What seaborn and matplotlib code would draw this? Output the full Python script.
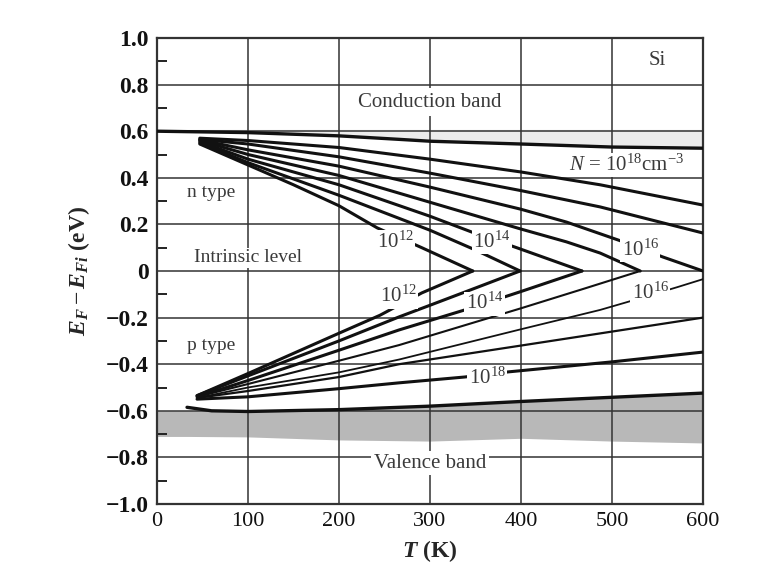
import matplotlib
matplotlib.use('Agg')
import matplotlib.pyplot as plt
import pandas as pd
import seaborn as sns

# ---- data (T in K, E_F - E_Fi in eV) ----
T_ec = [0, 100, 200, 266, 300, 400, 500, 600]
E_ec = [0.600, 0.594, 0.580, 0.565, 0.557, 0.545, 0.532, 0.527]

T_ev = [33, 60, 100, 200, 300, 400, 500, 600]
E_ev = [-0.585, -0.600, -0.603, -0.595, -0.580, -0.560, -0.542, -0.524]

# band shading
T_vb = [0, 33, 100, 200, 300, 400, 500, 600]
vb_top = [-0.600, -0.600, -0.603, -0.595, -0.580, -0.560, -0.542, -0.524]
vb_bot = [-0.710, -0.710, -0.712, -0.725, -0.730, -0.718, -0.730, -0.738]
cb_top = [0.608, 0.608, 0.608, 0.608, 0.608, 0.608, 0.608, 0.608]

# n type curves
n12_T = [47, 100, 150, 200, 242, 291, 347]
n12_E = [0.545, 0.455, 0.370, 0.280, 0.185, 0.100, 0.0]
n13_T = [47, 100, 200, 300, 350, 399]
n13_E = [0.550, 0.465, 0.325, 0.175, 0.090, 0.0]
n14_T = [47, 100, 200, 300, 346, 396, 467]
n14_E = [0.555, 0.480, 0.370, 0.235, 0.167, 0.099, 0.0]
n15_T = [47, 100, 200, 300, 400, 450, 487, 531]
n15_E = [0.560, 0.500, 0.410, 0.295, 0.180, 0.125, 0.077, 0.0]
n16_T = [47, 100, 200, 300, 400, 450, 509, 556, 600]
n16_E = [0.563, 0.520, 0.450, 0.360, 0.265, 0.210, 0.130, 0.060, 0.0]
n17_T = [47, 100, 200, 300, 400, 487, 600]
n17_E = [0.565, 0.545, 0.490, 0.420, 0.345, 0.275, 0.163]
n18_T = [47, 100, 200, 300, 400, 487, 600]
n18_E = [0.570, 0.560, 0.530, 0.480, 0.425, 0.370, 0.283]

# p type curves
p12_T = [44, 100, 200, 245, 291, 347]
p12_E = [-0.535, -0.440, -0.267, -0.190, -0.094, 0.0]
p13_T = [44, 100, 200, 266, 300, 350, 399]
p13_E = [-0.535, -0.450, -0.300, -0.197, -0.147, -0.073, 0.0]
p14_T = [44, 100, 200, 266, 340, 400, 467]
p14_E = [-0.540, -0.470, -0.340, -0.253, -0.165, -0.088, 0.0]
p15_T = [44, 100, 200, 266, 400, 470, 531]
p15_E = [-0.540, -0.485, -0.385, -0.318, -0.160, -0.075, 0.0]
p16_T = [44, 100, 200, 266, 400, 487, 517, 572, 600]
p16_E = [-0.545, -0.500, -0.435, -0.380, -0.250, -0.167, -0.133, -0.069, -0.035]
p17_T = [44, 100, 200, 266, 400, 500, 600]
p17_E = [-0.545, -0.515, -0.455, -0.400, -0.320, -0.260, -0.200]
p18_T = [44, 100, 200, 266, 338, 386, 500, 600]
p18_E = [-0.550, -0.540, -0.505, -0.480, -0.455, -0.433, -0.390, -0.348]

x_ticks = [0, 100, 200, 300, 400, 500, 600]
y_ticks = [1.0, 0.8, 0.6, 0.4, 0.2, 0.0, -0.2, -0.4, -0.6, -0.8, -1.0]
y_tick_labels = ['1.0', '0.8', '0.6', '0.4', '0.2', '0', '\u22120.2', '\u22120.4',
                 '\u22120.6', '\u22120.8', '\u22121.0']

# ---- style ----
sns.set_theme(style='white')
plt.rcParams['font.family'] = ['Liberation Serif', 'DejaVu Serif']
plt.rcParams['mathtext.fontset'] = 'custom'
plt.rcParams['mathtext.rm'] = 'Liberation Serif'
plt.rcParams['mathtext.it'] = 'Liberation Serif:italic'
plt.rcParams['mathtext.bf'] = 'Liberation Serif:bold'
plt.rcParams['mathtext.bfit'] = 'Liberation Serif:italic:bold'

fig = plt.figure(figsize=(7.65, 5.69), dpi=100)
ax = fig.add_axes([157/765, 1 - 504/569, (703 - 157)/765, (504 - 38)/569])

# band shading
ax.fill_between(T_vb, vb_bot, vb_top, color='#b8b8b8', lw=0, zorder=0.3)
ax.fill_between(T_ec, E_ec, cb_top, color='#ececec', lw=0, zorder=0.3)

curves = [
    (T_ec, E_ec, 2.4), (T_ev, E_ev, 2.4),
    (n12_T, n12_E, 2.2), (n13_T, n13_E, 2.2), (n14_T, n14_E, 2.2),
    (n15_T, n15_E, 2.2), (n16_T, n16_E, 2.2), (n17_T, n17_E, 2.2),
    (n18_T, n18_E, 2.2),
    (p12_T, p12_E, 2.2), (p13_T, p13_E, 2.2), (p14_T, p14_E, 2.2),
    (p15_T, p15_E, 1.5), (p16_T, p16_E, 1.3), (p17_T, p17_E, 1.6),
    (p18_T, p18_E, 2.2),
]
for tt, ee, w in curves:
    d = pd.DataFrame({'T': tt, 'E': ee})
    sns.lineplot(data=d, x='T', y='E', ax=ax, color='#111111', lw=w,
                 errorbar=None, zorder=3)

ax.set_xlim(0, 600)
ax.set_ylim(-1.0, 1.0)
ax.set_xticks(x_ticks)
ax.set_xticklabels([str(v) for v in x_ticks], fontsize=16)
ax.set_yticks(y_ticks)
ax.set_yticklabels(y_tick_labels, fontsize=17, fontweight='bold')
ax.set_yticks([0.9, 0.7, 0.5, 0.3, 0.1, -0.1, -0.3, -0.5, -0.7, -0.9], minor=True)
ax.tick_params(axis='y', which='major', length=0, pad=6, colors='#111111')
ax.tick_params(axis='y', which='minor', direction='in', length=7, width=1.4,
               left=True, color='#222222')
ax.tick_params(axis='x', which='major', length=0, pad=6, colors='#111111')

ax.grid(True, which='major', color='#333333', lw=1.1)
ax.set_axisbelow(True)
for s in ax.spines.values():
    s.set_color('#333333')
    s.set_linewidth(1.6)

ax.set_xlabel(r'$\mathbfit{T}$ (K)', fontsize=17, fontweight='bold', labelpad=5)
ax.set_ylabel(r'$\mathbfit{E_F} - \mathbfit{E_{Fi}}$ (eV)', fontsize=17,
              fontweight='bold', labelpad=10)

box = dict(facecolor='white', edgecolor='none', pad=1.0)
txt = '#3a3a3a'
ax.text(550, 0.905, 'Si', fontsize=15, color=txt, ha='center', va='center')
ax.text(300, 0.725, 'Conduction band', fontsize=15, color=txt, ha='center',
        va='center', bbox=dict(facecolor='white', edgecolor='none', pad=3))
ax.text(516, 0.455, r'$N$ = 10$^{18}$cm$^{-3}$', fontsize=15, color=txt,
        ha='center', va='center', bbox=box, zorder=4)
ax.text(60, 0.335, 'n type', fontsize=14, color=txt, ha='center', va='center')
ax.text(100, 0.056, 'Intrinsic level', fontsize=14, color=txt, ha='center',
        va='center', bbox=box, zorder=4)
ax.text(60, -0.32, 'p type', fontsize=14, color=txt, ha='center', va='center')
ax.text(300, -0.825, 'Valence band', fontsize=15, color=txt, ha='center',
        va='center', bbox=dict(facecolor='white', edgecolor='none', pad=2))

for tx, ey, s in [(262, 0.125, '12'), (368, 0.125, '14'), (531, 0.09, '16'),
                  (265, -0.11, '12'), (360, -0.14, '14'), (542, -0.094, '16'),
                  (363, -0.46, '18')]:
    ax.text(tx, ey, r'10$^{' + s + '}$', fontsize=15, color=txt, ha='center',
            va='center', bbox=box, zorder=4)

fig.savefig('out.png', dpi=100, facecolor='white')
